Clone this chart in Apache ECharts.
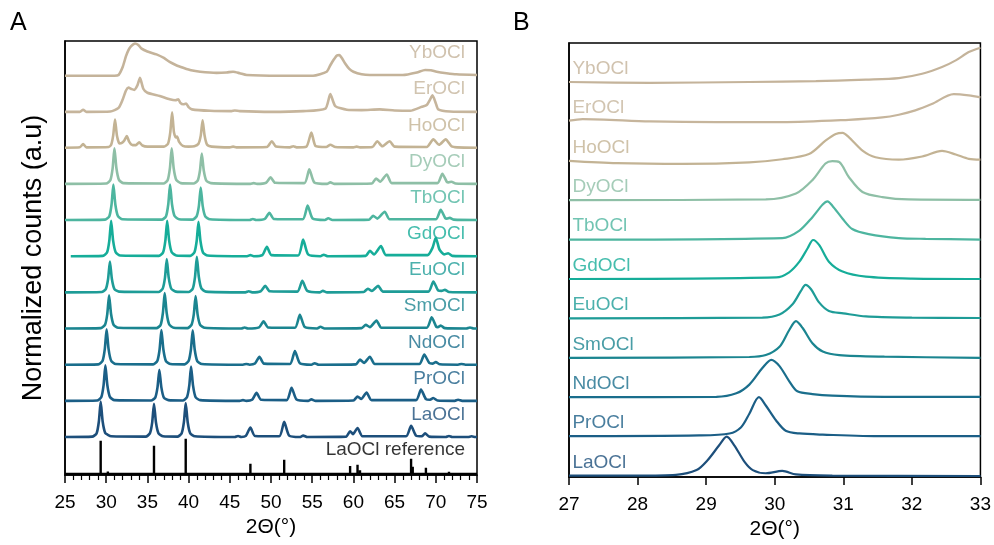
<!DOCTYPE html>
<html>
<head>
<meta charset="utf-8">
<script src="https://cdn.jsdelivr.net/npm/echarts@6/dist/echarts.min.js"></script>
<style>
  html, body { margin: 0; padding: 0; background: #fff; }
  #chart { width: 994px; height: 545px; }
</style>
</head>
<body>
<div id="chart"></div>
<script>
// ---- Panel A: wide-range patterns, 2θ 25–75°, normalised counts ----
const refPeakPos = [29.33, 30.2, 35.8, 39.65, 45.95, 47.5, 51.6, 53.1, 54.0, 59.6, 60.5, 60.8, 67.0, 67.2, 68.8, 71.6, 74.35];
const refPeakHeight = [0.92, 0.07, 0.78, 0.97, 0.05, 0.28, 0.39, 0.03, 0.04, 0.22, 0.25, 0.1, 0.42, 0.2, 0.17, 0.06, 0.05];

const laOClA = [[25,.02],[28.3,.03],[28.83,.12],[29.11,.45],[29.33,1.0],[29.57,.45],[29.88,.13],[30.2,.08],[30.6,.04],[34.8,.03],[35.3,.12],[35.58,.42],[35.8,.94],[36.04,.42],[36.35,.12],[36.9,.04],[38.65,.03],[39.15,.12],[39.43,.43],[39.65,.96],[39.89,.43],[40.2,.12],[40.75,.04],[45.6,.02],[46.0,.05],[46.4,.02],[46.95,.05],[47.5,.28],[48.05,.05],[51.0,.04],[51.6,.44],[52.2,.06],[53.5,.02],[53.9,.06],[54.4,.02],[59.1,.03],[59.6,.18],[59.95,.1],[60.5,.27],[61.1,.04],[66.4,.04],[67.0,.33],[67.6,.06],[68.3,.04],[68.7,.12],[69.2,.03],[71.2,.02],[71.6,.05],[72.0,.02],[73.9,.02],[74.35,.04],[74.8,.02],[75,.02]];
const prOClA = [[25,.02],[28.9,.03],[29.4,.12],[29.68,.45],[29.9,1.0],[30.14,.45],[30.45,.13],[31.0,.04],[35.45,.03],[35.95,.11],[36.23,.4],[36.45,.88],[36.69,.4],[37.0,.11],[37.55,.04],[39.3,.03],[39.8,.12],[40.08,.44],[40.3,.97],[40.54,.44],[40.85,.12],[41.4,.04],[46.2,.02],[46.6,.04],[47.0,.02],[47.7,.05],[48.25,.24],[48.8,.05],[51.9,.04],[52.5,.38],[53.1,.06],[54.5,.02],[54.9,.06],[55.4,.02],[60.0,.03],[60.5,.14],[60.95,.07],[61.6,.25],[62.2,.04],[67.6,.04],[68.2,.33],[68.8,.07],[69.3,.05],[69.7,.1],[70.2,.03],[72.3,.02],[72.7,.05],[73.2,.02],[75,.02]];
const ndOClA = [[25,.02],[29.05,.03],[29.55,.12],[29.83,.45],[30.05,1.0],[30.29,.45],[30.6,.13],[31.15,.04],[35.7,.03],[36.2,.12],[36.48,.44],[36.7,.98],[36.94,.44],[37.25,.12],[37.8,.04],[39.5,.03],[40.0,.12],[40.28,.44],[40.5,.97],[40.74,.44],[41.05,.12],[41.6,.04],[46.6,.02],[47.0,.04],[47.4,.02],[48.05,.05],[48.6,.24],[49.15,.05],[52.3,.04],[52.9,.4],[53.5,.06],[54.9,.02],[55.3,.06],[55.8,.02],[60.3,.03],[60.8,.16],[61.3,.07],[62.0,.24],[62.6,.04],[68.0,.04],[68.6,.3],[69.2,.07],[69.6,.05],[70.0,.09],[70.5,.03],[72.7,.02],[73.1,.04],[73.6,.02],[75,.02]];
const smOClA = [[25,.02],[29.35,.03],[29.85,.12],[30.13,.42],[30.35,.94],[30.59,.42],[30.9,.12],[31.45,.04],[36.1,.03],[36.6,.12],[36.88,.45],[37.1,1.0],[37.34,.45],[37.65,.13],[38.2,.04],[39.85,.03],[40.35,.12],[40.63,.41],[40.85,.92],[41.09,.41],[41.4,.12],[41.95,.04],[46.4,.02],[46.8,.05],[47.2,.02],[48.55,.05],[49.1,.22],[49.65,.05],[52.9,.04],[53.5,.4],[54.1,.06],[55.6,.02],[56.0,.07],[56.5,.02],[61.0,.03],[61.5,.12],[62.0,.06],[62.8,.24],[63.4,.04],[68.9,.04],[69.5,.33],[70.05,.07],[70.25,.06],[70.6,.1],[71.1,.03],[73.7,.02],[74.15,.05],[74.6,.02],[75,.02]];
const euOClA = [[25,.02],[29.45,.03],[29.95,.11],[30.23,.39],[30.45,.87],[30.69,.39],[31.0,.11],[31.55,.04],[36.35,.03],[36.85,.12],[37.13,.42],[37.35,.94],[37.59,.42],[37.9,.12],[38.45,.04],[40.0,.03],[40.5,.12],[40.78,.45],[41.0,1.0],[41.24,.45],[41.55,.13],[42.1,.04],[46.9,.02],[47.3,.05],[47.7,.02],[48.75,.05],[49.3,.2],[49.85,.05],[53.2,.04],[53.8,.34],[54.4,.06],[55.9,.02],[56.3,.06],[56.8,.02],[61.25,.03],[61.75,.12],[62.25,.06],[63.0,.2],[63.6,.04],[69.1,.04],[69.7,.32],[70.3,.07],[70.7,.06],[71.1,.09],[71.6,.03],[75,.02]];
const gdOClA = [[25.7,.02],[29.6,.03],[30.1,.12],[30.38,.45],[30.6,1.0],[30.84,.45],[31.15,.13],[31.7,.04],[36.4,.03],[36.9,.12],[37.18,.45],[37.4,1.0],[37.64,.45],[37.95,.13],[38.5,.04],[40.2,.03],[40.7,.12],[40.98,.44],[41.2,.97],[41.44,.44],[41.75,.12],[42.3,.04],[47.1,.02],[47.5,.05],[47.9,.02],[48.95,.05],[49.5,.28],[50.05,.05],[53.3,.04],[53.9,.48],[54.5,.07],[56.0,.02],[56.4,.06],[56.9,.02],[61.5,.03],[62.0,.17],[62.5,.07],[63.35,.3],[63.95,.05],[69.0,.05],[69.6,.25],[70.0,.53],[70.45,.2],[71.0,.07],[71.5,.1],[72.0,.03],[75,.02]];
const tbOClA = [[25,.02],[29.87,.03],[30.37,.12],[30.65,.45],[30.87,1.0],[31.11,.45],[31.42,.13],[31.97,.04],[36.75,.03],[37.25,.12],[37.53,.45],[37.75,1.0],[37.99,.45],[38.3,.13],[38.85,.04],[40.47,.03],[40.97,.12],[41.25,.41],[41.47,.92],[41.71,.41],[42.02,.12],[42.57,.04],[47.4,.02],[47.8,.05],[48.2,.02],[49.25,.05],[49.8,.22],[50.35,.05],[53.85,.04],[54.45,.42],[55.05,.06],[56.55,.02],[56.95,.07],[57.45,.02],[61.9,.03],[62.4,.14],[62.9,.06],[63.8,.25],[64.4,.04],[70.0,.04],[70.6,.3],[71.15,.07],[71.35,.06],[71.7,.08],[72.2,.03],[75,.02]];
const dyOClA = [[25,.02],[30.0,.03],[30.5,.12],[30.78,.45],[31.0,1.0],[31.24,.45],[31.55,.13],[32.1,.04],[36.95,.03],[37.45,.12],[37.73,.45],[37.95,1.0],[38.19,.45],[38.5,.13],[39.05,.04],[40.6,.03],[41.1,.11],[41.38,.39],[41.6,.86],[41.84,.39],[42.15,.11],[42.7,.04],[47.5,.02],[47.9,.04],[48.3,.02],[49.4,.05],[49.95,.2],[50.5,.05],[54.05,.04],[54.65,.42],[55.25,.06],[56.8,.02],[57.2,.06],[57.7,.02],[62.25,.03],[62.75,.17],[63.25,.08],[64.05,.28],[64.65,.04],[70.2,.04],[70.8,.3],[71.35,.07],[71.55,.06],[71.9,.08],[72.4,.03],[75,.02]];
const hoOClA = [[25,.02],[26.8,.03],[27.2,.12],[27.6,.03],[30.3,.04],[30.6,.1],[30.85,.36],[31.07,.8],[31.3,.36],[31.6,.14],[31.9,.15],[32.2,.22],[32.5,.34],[32.8,.18],[33.2,.09],[33.6,.09],[34.0,.17],[34.4,.08],[35.0,.05],[37.0,.05],[37.5,.13],[37.78,.45],[38.0,1.0],[38.22,.45],[38.45,.3],[38.6,.33],[38.85,.18],[39.3,.07],[40.0,.05],[40.7,.06],[41.2,.13],[41.48,.36],[41.7,.78],[41.94,.36],[42.25,.1],[42.8,.05],[45.0,.03],[45.4,.05],[45.8,.03],[49.5,.04],[50.1,.2],[50.6,.05],[52.3,.03],[52.7,.06],[53.1,.03],[54.3,.05],[54.9,.44],[55.4,.07],[56.7,.04],[57.2,.1],[57.8,.04],[60.0,.03],[60.4,.05],[60.8,.03],[62.3,.04],[62.9,.2],[63.5,.06],[64.4,.2],[65.0,.05],[68.9,.04],[69.7,.25],[70.4,.1],[71.2,.25],[71.9,.06],[72.6,.03],[75,.02]];
const erOClA = [[25,.01],[26.8,.01],[27.2,.07],[27.6,.01],[30.5,.02],[31.5,.12],[32.0,.35],[32.4,.6],[32.7,.68],[33.1,.64],[33.4,.62],[33.8,.75],[34.1,.95],[34.5,.65],[35.0,.54],[36.5,.45],[37.7,.36],[38.4,.33],[38.75,.36],[39.0,.26],[39.35,.22],[39.7,.24],[40.0,.14],[40.4,.08],[42.6,.04],[45.2,.03],[45.6,.05],[46.2,.03],[50,.01],[53.9,.03],[56.6,.1],[57.2,.5],[57.8,.17],[59.2,.07],[61,.06],[63.2,.08],[65,.05],[66.9,.04],[68.3,.15],[68.9,.2],[69.3,.35],[69.6,.47],[70.0,.25],[70.3,.08],[71.7,.02],[75,.01]];
const ybOClA = [[25,.01],[31.0,.01],[31.5,.03],[32.0,.25],[32.4,.55],[32.7,.72],[33.0,.82],[33.5,.9],[33.9,.86],[34.3,.76],[35.0,.68],[36.1,.6],[37.0,.5],[37.7,.39],[38.5,.3],[39.35,.23],[40.3,.16],[41.4,.12],[43.4,.09],[44.6,.1],[45.4,.12],[46.2,.08],[47.05,.03],[51.1,.01],[55.1,.01],[56.75,.12],[57.2,.3],[57.6,.45],[58.0,.57],[58.3,.58],[58.6,.5],[59.0,.35],[59.5,.2],[60.0,.12],[61,.05],[62.0,.03],[66.0,.03],[67.7,.1],[68.7,.17],[69.4,.16],[70.1,.12],[71.3,.08],[72.5,.05],[75,.03]];

// ---- Panel B: first reflection, 2θ 27–33° ----
const laOClB = [[27,.01],[28.0,.01],[28.56,.03],[28.86,.15],[29.02,.4],[29.19,.78],[29.3,1.0],[29.41,.78],[29.56,.36],[29.68,.15],[29.87,.07],[30.11,.13],[30.31,.04],[30.84,.01],[33,.0]];
const prOClB = [[27,.01],[28.9,.03],[29.34,.08],[29.51,.24],[29.63,.58],[29.77,1.0],[29.87,.79],[30.02,.41],[30.16,.15],[30.36,.08],[30.7,.05],[31.57,.01],[33,.01]];
const ndOClB = [[27,.0],[29.15,.01],[29.44,.1],[29.63,.32],[29.82,.74],[29.95,.95],[30.07,.79],[30.21,.41],[30.33,.15],[30.55,.08],[30.84,.04],[31.6,.01],[33,.01]];
const smOClB = [[27,.0],[29.63,.02],[29.87,.07],[30.07,.28],[30.21,.7],[30.31,.93],[30.41,.75],[30.55,.37],[30.7,.16],[30.94,.07],[31.6,.03],[33,.0]];
const euOClB = [[27,.0],[29.82,.02],[30.07,.1],[30.26,.36],[30.38,.69],[30.45,.85],[30.53,.74],[30.65,.4],[30.79,.19],[31.0,.13],[31.33,.05],[32.0,.02],[33,.01]];
const gdOClB = [[27,.0],[30.02,.04],[30.21,.17],[30.36,.44],[30.48,.78],[30.56,.99],[30.65,.86],[30.79,.44],[30.99,.19],[31.33,.06],[32.0,.01],[33,.0]];
const tbOClB = [[27,.0],[30.11,.04],[30.36,.23],[30.55,.57],[30.7,.89],[30.77,.97],[30.84,.86],[30.99,.53],[31.13,.27],[31.37,.14],[31.81,.04],[32.2,.02],[33,.0]];
const dyOClB = [[27,.0],[29.87,.02],[30.31,.17],[30.55,.51],[30.74,.93],[30.84,.99],[30.94,.97],[31.08,.59],[31.28,.21],[31.57,.08],[31.95,.02],[33,.01]];
const hoOClB = [[27,.0],[27.7,-.06],[28.66,-.08],[29.63,-.04],[30.11,.04],[30.5,.17],[30.74,.51],[30.89,.68],[30.99,.71],[31.08,.6],[31.28,.26],[31.47,.09],[31.81,.03],[32.15,.11],[32.44,.25],[32.64,.16],[32.83,.05],[33,.03]];
const erOClB = [[27,.02],[27.2,.06],[28.18,.0],[29.15,-.02],[30.11,-.02],[31.08,.04],[31.57,.1],[31.81,.17],[32.05,.28],[32.29,.44],[32.61,.69],[32.83,.66],[33,.61]];
const ybOClB = [[27,.0],[28.18,-.02],[29.63,.0],[30.6,.02],[31.33,.06],[31.81,.1],[32.15,.21],[32.44,.38],[32.64,.55],[32.83,.76],[33,.87]];

// Samples from bottom to top of each stack
const sampleNames = ['LaOCl','PrOCl','NdOCl','SmOCl','EuOCl','GdOCl','TbOCl','DyOCl','HoOCl','ErOCl','YbOCl'];
const patternsA = [laOClA, prOClA, ndOClA, smOClA, euOClA, gdOClA, tbOClA, dyOClA, hoOClA, erOClA, ybOClA];
const patternsB = [laOClB, prOClB, ndOClB, smOClB, euOClB, gdOClB, tbOClB, dyOClB, hoOClB, erOClB, ybOClB];
const refName = 'LaOCl reference';

const xTicksA = { min: 25, max: 75, interval: 5 };
const xTicksB = { min: 27, max: 33, interval: 1 };

// ---- styling ----
const FONT = '"Liberation Sans", Arial, sans-serif';
const sampleColors = ['#1d4f7b','#1b5e86','#1a6e8c','#1b8590','#1e9c97','#16ad99','#4db59f','#8ebfa6','#c3b394','#c6b59c','#c4b39a'];
const AX = '#000';

const chart = echarts.init(document.getElementById('chart'), null, { renderer: 'canvas' });

function xAxisCfg(grid, ticks, minor) {
  return {
    type: 'value', gridIndex: grid, min: ticks.min, max: ticks.max, interval: ticks.interval,
    name: '2Θ(°)', nameLocation: 'middle', nameGap: 32,
    nameTextStyle: { color: AX, fontSize: 21, fontFamily: FONT },
    axisLine: { show: true, onZero: false, lineStyle: { color: AX, width: 1.5 } },
    axisTick: { show: true, inside: false, length: 8, lineStyle: { color: AX, width: 1.5 } },
    minorTick: { show: minor, splitNumber: 5, length: 5, lineStyle: { color: AX, width: 1.2 } },
    axisLabel: { color: AX, fontSize: 19, fontFamily: FONT, margin: 18 },
    splitLine: { show: false }, minorSplitLine: { show: false }
  };
}
function yAxisCfg(grid, min, max, withName) {
  return {
    type: 'value', gridIndex: grid, min: min, max: max,
    name: withName ? 'Normalized counts (a.u)' : '', nameLocation: 'middle', nameGap: 18,
    nameTextStyle: { color: AX, fontSize: 27, fontFamily: FONT },
    axisLine: { show: true, lineStyle: { color: AX, width: 1.5 } },
    axisTick: { show: false }, axisLabel: { show: false }, splitLine: { show: false }
  };
}

const series = [];

// reference stick pattern (panel A, bottom)
const refLine = [[25, 0]];
refPeakPos.forEach((p, i) => { refLine.push([p, 0], [p, refPeakHeight[i]], [p, 0]); });
refLine.push([75, 0]);
series.push({
  name: refName, type: 'line', xAxisIndex: 0, yAxisIndex: 0, data: refLine,
  symbol: 'none', lineStyle: { color: '#000', width: 2.4 }, z: 3, silent: true
});

// stacked sample patterns, one unit of offset per sample
sampleNames.forEach((name, i) => {
  series.push({
    name: name + ' A', type: 'line', xAxisIndex: 0, yAxisIndex: 0,
    data: patternsA[i].map(([x, y]) => [x, y + i + 1]),
    symbol: 'none', smooth: 0.2, lineStyle: { color: sampleColors[i], width: 2.6 }, silent: true
  });
  series.push({
    name: name + ' B', type: 'line', xAxisIndex: 1, yAxisIndex: 1,
    data: patternsB[i].map(([x, y]) => [x, y + i]),
    symbol: 'none', smooth: 0.3, lineStyle: { color: sampleColors[i], width: 2.2 }, silent: true
  });
});

// curve labels
const labelsA = sampleNames.map((name, i) => ({
  value: [73.55, i + 1 + 0.64], name: name, label: { color: sampleColors[i] }
}));
labelsA.unshift({ value: [73.55, 0.66], name: refName, label: { color: '#000' } });
series.push({
  type: 'scatter', xAxisIndex: 0, yAxisIndex: 0, symbolSize: 0, data: labelsA, silent: true, z: 5,
  label: { show: true, position: [0, 0], align: 'right', verticalAlign: 'middle',
           formatter: p => p.name, fontSize: 19, fontFamily: FONT }
});
const labelsB = sampleNames.map((name, i) => ({
  value: [27.05, i + 0.34], name: name, label: { color: sampleColors[i] }
}));
series.push({
  type: 'scatter', xAxisIndex: 1, yAxisIndex: 1, symbolSize: 0, data: labelsB, silent: true, z: 5,
  label: { show: true, position: [0, 0], align: 'left', verticalAlign: 'middle',
           formatter: p => p.name, fontSize: 19, fontFamily: FONT }
});

chart.setOption({
  animation: false,
  backgroundColor: '#fff',
  title: [
    { text: 'A', left: 5, top: 6, textStyle: { fontSize: 25, fontWeight: 'normal', color: AX, fontFamily: FONT } },
    { text: 'B', left: 508, top: 6, textStyle: { fontSize: 25, fontWeight: 'normal', color: AX, fontFamily: FONT } }
  ],
  grid: [
    { left: 65, right: 517, top: 41, bottom: 70, show: true, borderColor: AX, borderWidth: 1.5, backgroundColor: 'transparent' },
    { left: 569, right: 12, top: 43, bottom: 68, show: true, borderColor: AX, borderWidth: 1.5, backgroundColor: 'transparent' }
  ],
  xAxis: [xAxisCfg(0, xTicksA, true), xAxisCfg(1, xTicksB, false)],
  yAxis: [yAxisCfg(0, -0.03, 11.97, true), yAxisCfg(1, -0.025, 10.99, false)],
  series: series
});
</script>
</body>
</html>
